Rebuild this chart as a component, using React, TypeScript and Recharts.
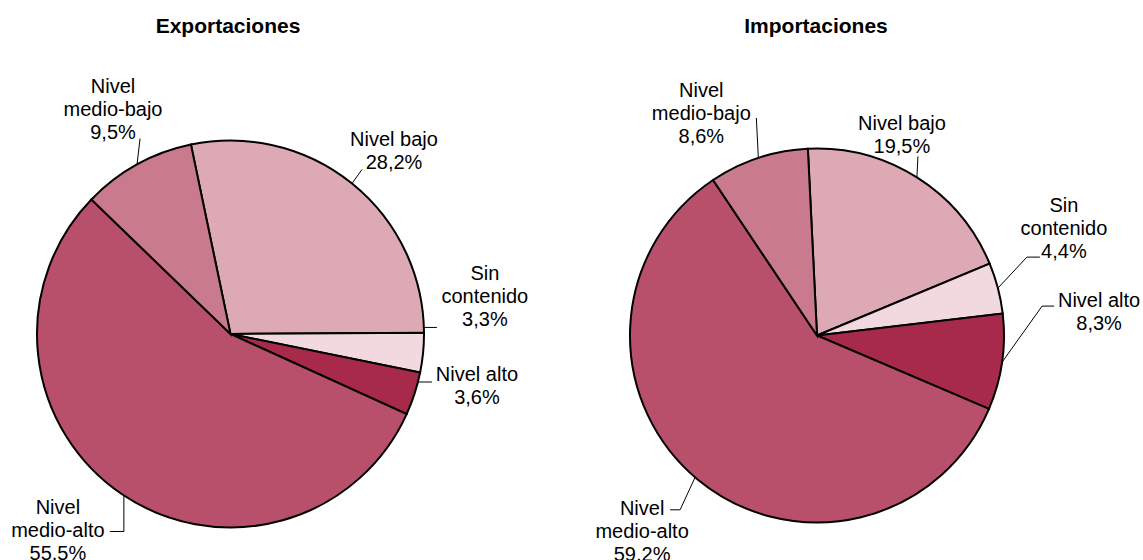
import { PieChart, Pie, Cell } from 'recharts';

// categories in clockwise order, starting at the top
const CATEGORIES = ['Nivel bajo', 'Sin contenido', 'Nivel alto', 'Nivel medio-alto', 'Nivel medio-bajo'];
const CATEGORY_LINES = [['Nivel bajo'], ['Sin', 'contenido'], ['Nivel alto'], ['Nivel', 'medio-alto'], ['Nivel', 'medio-bajo']];
const EXPORT_VALUES = [28.2, 3.3, 3.6, 55.5, 9.5];
const IMPORT_VALUES = [19.5, 4.4, 8.3, 59.2, 8.6];
const TITLES = ['Exportaciones', 'Importaciones'];

const COLORS = ['#DDA9B5', '#F2D9DF', '#A82A4A', '#B9506B', '#C97A8C'];
const FONT = '"Liberation Sans", Arial, sans-serif';
const RADIAN = Math.PI / 180;
const LINE_H = 23;

// label placement: angle nudge (deg, clockwise), leader path and text offset, relative to the slice edge point
type LabelLayout = { nudge: number; path: number[][]; text: number[] };

const EXPORT_LAYOUT: LabelLayout[] = [
  { nudge: 0, path: [[10, -14]], text: [42, -44] },
  { nudge: -7.5, path: [[13, 0]], text: [61, -54] },
  { nudge: -3.6, path: [[14, 0]], text: [59, -8] },
  { nudge: -0.8, path: [[0, 36], [-14, 36]], text: [-66, 12] },
  { nudge: 0, path: [[3, -26]], text: [-24, -79] },
];

const IMPORT_LAYOUT: LabelLayout[] = [
  { nudge: 0, path: [[1, -21]], text: [-15, -54] },
  { nudge: 0, path: [[29, -31], [42, -31]], text: [66, -83] },
  { nudge: 0, path: [[40, -56], [52, -56]], text: [97, -62] },
  { nudge: 1, path: [[-15, 32.5], [-25, 32.5]], text: [-53, 30.5] },
  { nudge: 0, path: [[-2, -40]], text: [-57, -68] },
];

const toRows = (values: number[]) =>
  CATEGORIES.map((name, i) => ({ name, value: values[i] }));

const fmt = (v: number) => v.toFixed(1).replace('.', ',') + '%';

function makeLabel(layout: LabelLayout[]) {
  return (props: any) => {
    const { cx, cy, midAngle, outerRadius, index, value } = props;
    const cfg = layout[index];
    const a = (midAngle - cfg.nudge) * RADIAN;
    const ax = cx + outerRadius * Math.cos(a);
    const ay = cy - outerRadius * Math.sin(a);
    const pts = [[0, 0], ...cfg.path].map(([dx, dy]) => `${ax + dx},${ay + dy}`).join(' ');
    const lines = [...CATEGORY_LINES[index], fmt(value)];
    const tx = ax + cfg.text[0];
    const ty = ay + cfg.text[1] + 7;
    return (
      <g>
        <polyline points={pts} fill="none" stroke="#000" strokeWidth={1} />
        <text x={tx} y={ty} textAnchor="middle" fontFamily={FONT} fontSize={20} fill="#000">
          {lines.map((l, k) => (
            <tspan key={k} x={tx} y={ty + k * LINE_H}>{l}</tspan>
          ))}
        </text>
      </g>
    );
  };
}

export default function App() {
  return (
    <div style={{ position: 'absolute', left: 0, top: 0, width: 1143, height: 560, background: '#fff' }}>
      <PieChart width={1143} height={560} margin={{ top: 0, right: 0, bottom: 0, left: 0 }}>
        <Pie
          data={toRows(EXPORT_VALUES)}
          dataKey="value"
          cx={230.5}
          cy={334}
          outerRadius={193.5}
          startAngle={101.8}
          endAngle={-258.2}
          label={makeLabel(EXPORT_LAYOUT)}
          labelLine={false}
          isAnimationActive={false}
        >
          {EXPORT_VALUES.map((_, i) => (
            <Cell key={i} fill={COLORS[i]} stroke="#000" strokeWidth={2} />
          ))}
        </Pie>
        <Pie
          data={toRows(IMPORT_VALUES)}
          dataKey="value"
          cx={817}
          cy={335.5}
          outerRadius={187}
          startAngle={92.8}
          endAngle={-267.2}
          label={makeLabel(IMPORT_LAYOUT)}
          labelLine={false}
          isAnimationActive={false}
        >
          {IMPORT_VALUES.map((_, i) => (
            <Cell key={i} fill={COLORS[i]} stroke="#000" strokeWidth={2} />
          ))}
        </Pie>
      </PieChart>
      <svg width={1143} height={60} style={{ position: 'absolute', left: 0, top: 0, pointerEvents: 'none' }}>
        <text x={228} y={32.5} textAnchor="middle" fontFamily={FONT} fontSize={21} fontWeight="bold" fill="#000">
          {TITLES[0]}
        </text>
        <text x={816} y={32.5} textAnchor="middle" fontFamily={FONT} fontSize={21} fontWeight="bold" fill="#000">
          {TITLES[1]}
        </text>
      </svg>
    </div>
  );
}
